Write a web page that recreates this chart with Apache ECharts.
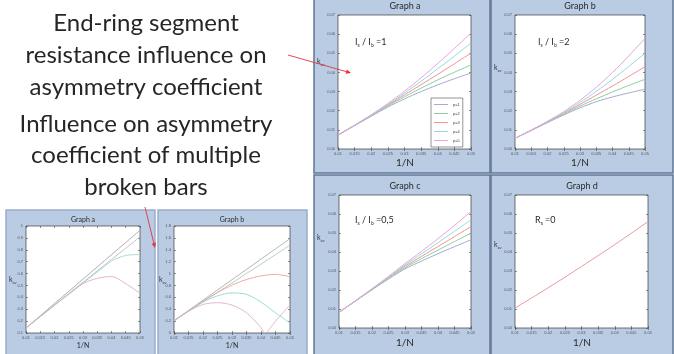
<!DOCTYPE html>
<html>
<head>
<meta charset="utf-8">
<script src="https://cdn.jsdelivr.net/npm/echarts@6/dist/echarts.min.js"></script>
<style>
html, body {margin: 0; padding: 0; background: #fff;}
#chart {width: 674px; height: 354px;}
</style>
</head>
<body>
<div id="chart"></div>
<script>
// 1/N values shared by every graph
const invN = [0.01, 0.015, 0.02, 0.025, 0.03, 0.035, 0.04, 0.045, 0.05]
const pNames = ['p=1', 'p=2', 'p=3', 'p=4', 'p=5']

// Graph a, is/ib = 1
const kavA = [
  [0.0073, 0.0122, 0.0171, 0.0219, 0.0262, 0.0300, 0.0335, 0.0367, 0.0397],
  [0.0073, 0.0123, 0.0174, 0.0225, 0.0273, 0.0318, 0.0361, 0.0401, 0.0439],
  [0.0073, 0.0124, 0.0176, 0.0229, 0.0283, 0.0336, 0.0390, 0.0445, 0.0501],
  [0.0073, 0.0124, 0.0177, 0.0233, 0.0292, 0.0354, 0.0419, 0.0485, 0.0554],
  [0.0073, 0.0125, 0.0179, 0.0238, 0.0302, 0.0372, 0.0447, 0.0525, 0.0606],
]
// Graph b, is/ib = 2
const kavB = [
  [0.0056, 0.0097, 0.0138, 0.0178, 0.0215, 0.0247, 0.0272, 0.0293, 0.0312],
  [0.0056, 0.0098, 0.0140, 0.0182, 0.0224, 0.0262, 0.0298, 0.0332, 0.0364],
  [0.0056, 0.0098, 0.0141, 0.0186, 0.0233, 0.0281, 0.0329, 0.0379, 0.0430],
  [0.0056, 0.0099, 0.0143, 0.0190, 0.0243, 0.0301, 0.0364, 0.0431, 0.0500],
  [0.0056, 0.0099, 0.0145, 0.0195, 0.0254, 0.0322, 0.0400, 0.0486, 0.0578],
]
// Graph c, is/ib = 0,5
const kavC = [
  [0.0082, 0.0142, 0.0201, 0.0258, 0.0311, 0.0352, 0.0391, 0.0428, 0.0464],
  [0.0082, 0.0142, 0.0202, 0.0261, 0.0318, 0.0365, 0.0410, 0.0455, 0.0499],
  [0.0082, 0.0143, 0.0204, 0.0265, 0.0325, 0.0377, 0.0429, 0.0481, 0.0534],
  [0.0082, 0.0143, 0.0205, 0.0268, 0.0332, 0.0390, 0.0449, 0.0509, 0.0569],
  [0.0082, 0.0144, 0.0207, 0.0272, 0.0339, 0.0403, 0.0470, 0.0540, 0.0613],
]
// Graph d, Rs = 0
const kavD = [0.0105, 0.0158, 0.0212, 0.0267, 0.0324, 0.0381, 0.0439, 0.0499, 0.0560]

// broken bars, graph a
const brokenA = [
  [0.142, 0.245, 0.348, 0.450, 0.553, 0.656, 0.759, 0.861, 0.964],
  [0.142, 0.240, 0.336, 0.432, 0.527, 0.622, 0.718, 0.813, 0.908],
  [0.142, 0.238, 0.333, 0.428, 0.520, 0.612, 0.705, 0.752, 0.760],
  [0.142, 0.238, 0.333, 0.425, 0.515, 0.560, 0.575, 0.515, 0.434],
]
// broken bars, graph b
const brokenB = [
  [0.206, 0.379, 0.552, 0.724, 0.897, 1.070, 1.243, 1.415, 1.588],
  [0.206, 0.365, 0.524, 0.683, 0.841, 1.000, 1.159, 1.318, 1.477],
  [0.206, 0.372, 0.535, 0.680, 0.805, 0.900, 0.960, 0.985, 0.947],
  [0.206, 0.370, 0.520, 0.625, 0.675, 0.650, 0.520, 0.340, 0.167],
]
const brokenB5X = [0.01, 0.015, 0.02, 0.025, 0.03, 0.035, 0.04, 0.0413, 0.045, 0.05]
const brokenB5 = [0.206, 0.365, 0.480, 0.510, 0.470, 0.340, 0.090, 0, 0.200, 0.474]

const pColors = ['#a2acd0', '#8ccf9f', '#f39294', '#94dbe0', '#e4a6de']
const brokenAColors = ['#a4a4ac', '#bcbcc4', '#98dad6', '#dbaec4']
const brokenBColors = ['#acacb4', '#a8ceb4', '#f29ca0', '#90d8ce', '#e0b0cc']

const chart = echarts.init(document.getElementById('chart'))

const pairs = (xs, ys) => xs.map((x, i) => [x, ys[i]])

// plot areas
const grids = [
  {left: 338, top: 15, width: 133, height: 134},
  {left: 515, top: 15, width: 130, height: 134},
  {left: 339, top: 195, width: 132, height: 133},
  {left: 515, top: 195, width: 133, height: 133},
  {left: 26, top: 226, width: 114, height: 107},
  {left: 174, top: 226, width: 116, height: 107},
].map(g => Object.assign({show: true, backgroundColor: '#fff', borderColor: '#3a3a3a', borderWidth: 0.7}, g))

const tickStyle = {inside: true, length: 2, lineStyle: {color: '#444', width: 0.6}}
const labelStyle = {fontSize: 4, color: '#555', margin: 3, fontFamily: 'Liberation Sans'}

const yRanges = [
  [0, 0.07, 0.01, 2], [0, 0.07, 0.01, 2], [0, 0.07, 0.01, 2], [0, 0.07, 0.01, 2],
  [0.1, 1, 0.1, 1], [0, 1.8, 0.2, 1],
]

const xAxes = []
const yAxes = []
grids.forEach((g, i) => {
  const r = yRanges[i]
  ;['bottom', 'top'].forEach(pos => xAxes.push({
    type: 'value', gridIndex: i, position: pos, min: 0.01, max: 0.05, interval: 0.005,
    axisLine: {show: false}, splitLine: {show: false}, axisTick: tickStyle,
    axisLabel: Object.assign({}, labelStyle, {show: pos === 'bottom', formatter: v => String(+v.toFixed(3))}),
  }))
  ;['left', 'right'].forEach(pos => yAxes.push({
    type: 'value', gridIndex: i, position: pos, min: r[0], max: r[1], interval: r[2],
    axisLine: {show: false}, splitLine: {show: false}, axisTick: tickStyle,
    axisLabel: Object.assign({}, labelStyle, {
      show: pos === 'left',
      formatter: v => r[3] === 2 ? v.toFixed(2) : String(+v.toFixed(1)),
    }),
  }))
})

const line = (name, idx, xs, ys, color, width) => ({
  name, type: 'line', xAxisIndex: idx * 2, yAxisIndex: idx * 2,
  data: pairs(xs, ys), symbol: 'none', smooth: 0.3,
  lineStyle: {color, width: width || 1}, itemStyle: {color},
  silent: true, animation: false,
})

const series = []
;[kavA, kavB, kavC].forEach((set, g) => {
  set.forEach((ys, i) => series.push(line(pNames[i], g, invN, ys, pColors[i])))
})
series.push(line('Rs=0', 3, invN, kavD, '#eb98a0'))
brokenA.forEach((ys, i) => series.push(line('a' + i, 4, invN, ys, brokenAColors[i], 0.9)))
brokenB.forEach((ys, i) => series.push(line('b' + i, 5, invN, ys, brokenBColors[i], 0.9)))
series.push(line('b4', 5, brokenB5X, brokenB5, brokenBColors[4], 0.9))

// slide decoration
const panelFill = '#b9cce4'
const panel = (x, y, w, h, stroke) => ({
  type: 'rect', z: -10, shape: {x, y, width: w, height: h},
  style: {fill: panelFill, stroke: stroke || '#5f7596', lineWidth: 1.5},
})
const txt = (text, x, y, size, extra) => ({
  type: 'text', z: 100,
  style: Object.assign({text, x, y, fontSize: size, fontFamily: 'Lato', fill: '#2a2a2a', align: 'center', verticalAlign: 'middle'}, extra || {}),
})
const kav = (x, y) => ({
  type: 'text', z: 100,
  style: {
    text: '{m|k}{s|av}', x, y, align: 'left', verticalAlign: 'middle',
    rich: {m: {fontSize: 7, fontFamily: 'Lato', fill: '#333', lineHeight: 10}, s: {fontSize: 4, fontFamily: 'Lato', fill: '#333', lineHeight: 10, verticalAlign: 'bottom'}},
  },
})
const ratio = (a, b, tail, x, y) => ({
  type: 'text', z: 100,
  style: {
    text: '{m|' + a[0] + '}{s|' + a[1] + '}' + (b ? '{m| / ' + b[0] + '}{s|' + b[1] + '}' : '') + '{m|' + tail + '}',
    x, y, align: 'left', verticalAlign: 'middle',
    rich: {m: {fontSize: 9, fontFamily: 'Lato', fill: '#2a2a2a', lineHeight: 12}, s: {fontSize: 5, fontFamily: 'Lato', fill: '#2a2a2a', lineHeight: 12, verticalAlign: 'bottom'}},
  },
})
const arrow = (x1, y1, x2, y2) => {
  const a = Math.atan2(y2 - y1, x2 - x1)
  const L = 5, W = 2.2
  const bx = x2 - L * Math.cos(a), by = y2 - L * Math.sin(a)
  return [
    {type: 'line', z: 100, shape: {x1, y1, x2: bx, y2: by}, style: {stroke: '#e0353b', lineWidth: 0.9}},
    {type: 'polygon', z: 100, shape: {points: [[x2, y2], [bx - W * Math.sin(a), by + W * Math.cos(a)], [bx + W * Math.sin(a), by - W * Math.cos(a)]]}, style: {fill: '#e0353b'}},
  ]
}

const slideFont = {fontFamily: 'Lato', fill: '#262626'}
const graphic = [
  panel(314, -3, 176, 176),
  panel(491, -3, 182, 176),
  panel(314, 175, 176, 182),
  panel(491, 175, 182, 182),
  panel(6, 210, 149, 150, '#9aaecb'),
  panel(158, 210, 149, 150, '#9aaecb'),
  txt('Graph a', 405, 6, 9),
  txt('Graph b', 580, 6, 9),
  txt('Graph c', 405, 186, 9),
  txt('Graph d', 582, 186, 9),
  txt('1/N', 405, 163, 10),
  txt('1/N', 580, 163, 10),
  txt('1/N', 405, 343, 10),
  txt('1/N', 582, 343, 10),
  txt('Graph a', 83, 220, 7),
  txt('Graph b', 232, 220, 7),
  txt('1/N', 83, 346, 7),
  txt('1/N', 232, 346, 7),
  kav(317, 62), kav(494, 68), kav(317, 238), kav(494, 245),
  kav(9, 280), kav(159, 280),
  ratio(['I', 's'], ['I', 'b'], ' =1', 355, 42),
  ratio(['I', 's'], ['I', 'b'], ' =2', 538, 42),
  ratio(['I', 's'], ['I', 'b'], ' =0,5', 355, 220),
  ratio(['R', 's'], null, ' =0', 535, 220),
  txt('End-ring segment', 146, 23, 24, slideFont),
  txt('resistance influence on', 146, 55, 24, slideFont),
  txt('asymmetry coefficient', 146, 87, 24, slideFont),
  txt('Influence on asymmetry', 146, 124, 24, slideFont),
  txt('coefficient of multiple', 146, 155, 24, slideFont),
  txt('broken bars', 146, 187, 24, slideFont),
].concat(arrow(288, 55, 351, 73), arrow(145, 207, 155, 248))

chart.setOption({
  animation: false,
  grid: grids,
  xAxis: xAxes,
  yAxis: yAxes,
  legend: {
    data: pNames, left: 431, top: 98, orient: 'vertical',
    icon: 'rect', itemWidth: 14, itemHeight: 1, itemGap: 4, padding: [4, 3, 4, 3],
    backgroundColor: '#fff', borderColor: '#666', borderWidth: 0.7, borderRadius: 0,
    textStyle: {fontSize: 4, color: '#444', fontFamily: 'Liberation Sans', lineHeight: 5},
    selectedMode: false,
  },
  series,
  graphic,
})
</script>
</body>
</html>
